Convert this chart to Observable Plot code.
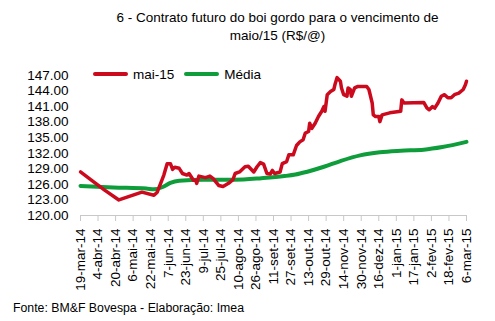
<!DOCTYPE html>
<html><head><meta charset="utf-8">
<script src="https://cdn.jsdelivr.net/npm/d3@7"></script>
<script src="https://cdn.jsdelivr.net/npm/@observablehq/plot@0.6"></script>
<style>
body{margin:0;background:#fff;font-family:"Liberation Sans",Arial,sans-serif;}
#wrap{position:relative;width:495px;height:321px;background:#fff;overflow:hidden;}
#title{position:absolute;left:60px;top:9px;width:435px;text-align:center;font-size:13.5px;line-height:18px;color:#000;}
#chart{position:absolute;left:0;top:58px;}
#legend{position:absolute;left:93px;top:66px;font-size:13.5px;color:#000;display:flex;align-items:center;height:16px;}
#legend .sw{display:inline-block;width:35px;height:4px;border-radius:2px;margin-right:5px;}
#legend .it{display:flex;align-items:center;margin-right:10px;}
#caption{position:absolute;left:13px;top:301px;font-size:12.3px;color:#000;}
</style></head>
<body>
<div id="wrap">
  <div id="title">6 - Contrato futuro do boi gordo para o vencimento de<br>maio/15 (R$/@)</div>
  <div id="chart"></div>
  <div id="legend"></div>
  <div id="caption">Fonte: BM&amp;F Bovespa - Elaboração: Imea</div>
</div>
<script>
const seriesNames = ["mai-15", "Média"];
const seriesColors = ["#cc0a1e", "#0f9d3c"];

const maiDates = ["2014-03-19","2014-03-31","2014-04-10","2014-04-23","2014-05-14","2014-05-25","2014-05-28","2014-06-03","2014-06-06","2014-06-09","2014-06-11","2014-06-13","2014-06-17","2014-06-20","2014-06-24","2014-06-26","2014-06-30","2014-07-02","2014-07-03","2014-07-05","2014-07-09","2014-07-11","2014-07-15","2014-07-18","2014-07-23","2014-07-27","2014-08-01","2014-08-05","2014-08-07","2014-08-11","2014-08-16","2014-08-19","2014-08-24","2014-08-27","2014-08-30","2014-09-02","2014-09-05","2014-09-08","2014-09-10","2014-09-12","2014-09-17","2014-09-19","2014-09-23","2014-09-25","2014-09-29","2014-10-02","2014-10-05","2014-10-08","2014-10-10","2014-10-13","2014-10-14","2014-10-16","2014-10-19","2014-10-22","2014-10-25","2014-10-27","2014-10-28","2014-10-29","2014-10-30","2014-11-02","2014-11-05","2014-11-06","2014-11-08","2014-11-11","2014-11-12","2014-11-14","2014-11-17","2014-11-18","2014-11-20","2014-11-21","2014-11-24","2014-11-27","2014-12-05","2014-12-07","2014-12-10","2014-12-11","2014-12-13","2014-12-16","2014-12-17","2014-12-19","2014-12-26","2015-01-05","2015-01-06","2015-01-08","2015-01-26","2015-01-29","2015-01-31","2015-02-03","2015-02-05","2015-02-08","2015-02-11","2015-02-14","2015-02-17","2015-02-20","2015-02-23","2015-02-27","2015-03-03","2015-03-05","2015-03-06"];
const maiValues = [128.4,126.5,124.9,123.0,124.5,123.9,124.5,127.8,130.0,130.0,128.9,129.3,129.1,128.1,127.8,128.1,126.8,126.8,126.2,127.6,127.4,127.3,127.6,127.1,125.8,125.6,126.2,126.9,128.1,128.4,129.4,129.5,128.4,129.4,130.2,129.9,128.1,128.0,128.7,128.1,128.4,130.0,130.4,131.7,131.7,133.5,134.2,134.6,135.9,136.2,137.8,136.8,137.8,139.1,140.1,141.0,140.1,141.7,143.3,143.9,144.3,145.2,146.6,145.9,144.6,143.3,143.0,144.6,144.3,143.0,144.6,144.9,144.9,144.3,141.7,139.4,139.1,139.1,138.1,139.4,139.8,140.1,142.3,141.7,141.8,140.7,140.4,141.0,140.7,141.7,143.0,143.3,142.7,142.7,143.3,143.6,144.3,145.2,145.9];

const mediaDates = ["2014-03-19","2014-04-18","2014-05-18","2014-05-25","2014-06-02","2014-06-09","2014-06-17","2014-07-09","2014-08-06","2014-08-31","2014-09-21","2014-10-01","2014-10-11","2014-10-27","2014-11-11","2014-11-29","2014-12-17","2015-01-05","2015-01-26","2015-02-12","2015-03-06"];
const mediaValues = [125.7,125.4,125.2,125.05,125.5,126.3,126.7,126.9,126.9,127.2,127.6,127.9,128.4,129.4,130.5,131.6,132.2,132.5,132.7,133.2,134.2];

const xTickDates = ["2014-03-19","2014-04-04","2014-04-20","2014-05-06","2014-05-22","2014-06-07","2014-06-23","2014-07-09","2014-07-25","2014-08-10","2014-08-26","2014-09-11","2014-09-27","2014-10-13","2014-10-29","2014-11-14","2014-11-30","2014-12-16","2015-01-01","2015-01-17","2015-02-02","2015-02-18","2015-03-06"];
const monthAbbr = ["jan","fev","mar","abr","mai","jun","jul","ago","set","out","nov","dez"];
const yTicks = [120,123,126,129,132,135,138,141,144,147];

const parse = s => new Date(s + "T00:00:00Z");
const mai = maiDates.map((d, i) => ({date: parse(d), value: maiValues[i]}));
const media = mediaDates.map((d, i) => ({date: parse(d), value: mediaValues[i]}));
const fmt = d => `${d.getUTCDate()}-${monthAbbr[d.getUTCMonth()]}-${String(d.getUTCFullYear()).slice(2)}`;

const chart = Plot.plot({
  width: 495,
  height: 240,
  marginTop: 17,
  marginBottom: 83,
  marginLeft: 80,
  marginRight: 29,
  style: {fontFamily: '"Liberation Sans", Arial, sans-serif', color: "#000", background: "#fff"},
  x: {type: "utc", domain: [parse(xTickDates[0]), parse(xTickDates[xTickDates.length - 1])]},
  y: {domain: [120, 147]},
  marks: [
    Plot.axisY({ticks: yTicks, tickFormat: d => d.toFixed(2), tickSize: 0, tickPadding: 12, fontSize: 13.5, label: null}),
    Plot.axisX({ticks: xTickDates.map(parse), tickFormat: fmt, tickRotate: -90, tickSize: 6, tickPadding: 7, stroke: "#c8c8c8", fill: "#000", fontSize: 13.5, label: null}),
    Plot.ruleY([120], {stroke: "#c8c8c8", strokeWidth: 1}),
    Plot.line(media, {x: "date", y: "value", stroke: seriesColors[1], strokeWidth: 4, curve: "monotone-x"}),
    Plot.line(mai, {x: "date", y: "value", stroke: seriesColors[0], strokeWidth: 3.5, strokeLinejoin: "round"})
  ]
});
document.getElementById("chart").appendChild(chart);

const legend = document.getElementById("legend");
seriesNames.forEach((n, i) => {
  const it = document.createElement("span");
  it.className = "it";
  it.innerHTML = `<span class="sw" style="background:${seriesColors[i]}"></span>${n}`;
  legend.appendChild(it);
});
</script>
</body></html>
